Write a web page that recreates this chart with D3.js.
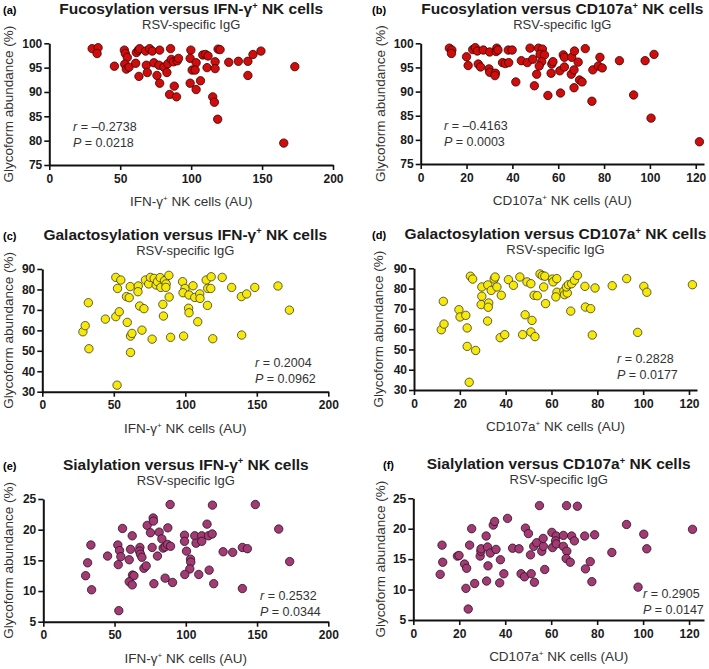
<!DOCTYPE html>
<html><head><meta charset="utf-8">
<script src="https://cdn.jsdelivr.net/npm/d3@7"></script>
<style>
body{margin:0;background:#fff;}
svg{display:block;font-family:"Liberation Sans",Arial,Helvetica,sans-serif;}
</style></head><body>
<svg id="c" width="709" height="669"></svg>
<script>
// ---- data (x = NK cells AU, y = glycoform abundance %) ----
const fucIFN = [[30.2,98.9],[34.4,99.1],[33.7,97.9],[45.9,95.3],[52.9,98.6],[53.6,97.9],[55.0,97.1],[53.2,95.7],[54.3,94.7],[56.2,95.1],[60.9,95.9],[61.4,98.1],[62.8,98.6],[63.7,98.9],[67.9,98.4],[70.7,98.9],[72.6,98.4],[77.8,98.6],[85.5,98.9],[63.2,93.2],[68.4,95.5],[69.1,94.0],[73.7,96.0],[77.3,95.5],[75.9,93.4],[77.8,91.8],[80.8,95.1],[82.9,94.0],[83.6,95.8],[86.0,96.7],[87.6,96.2],[90.2,96.4],[91.1,96.9],[88.1,91.2],[84.8,89.5],[89.7,89.0],[99.8,98.6],[99.3,96.9],[103.5,96.0],[100.7,94.5],[102.8,94.5],[99.3,91.8],[106.6,92.3],[103.5,90.5],[108.2,97.6],[110.1,97.7],[111.9,97.4],[111.2,95.0],[116.9,96.2],[116.9,94.8],[115.2,89.0],[116.4,87.9],[118.7,84.4],[119.0,98.8],[120.4,98.7],[126.5,96.1],[133.3,96.3],[140.0,96.3],[140.0,93.4],[143.6,97.7],[149.2,98.4],[173.1,95.2],[165.3,79.5]];
const fucCD107a = [[12.5,99.0],[13.6,98.6],[13.4,97.9],[20.0,97.2],[20.7,95.4],[22.7,98.7],[23.8,99.1],[24.7,98.4],[25.1,95.7],[26.1,95.1],[27.3,98.6],[30.1,98.2],[29.8,94.7],[30.1,94.0],[32.6,93.8],[32.4,93.3],[33.2,99.0],[32.9,98.3],[33.7,98.6],[35.7,96.0],[36.9,95.8],[38.4,96.0],[38.2,98.6],[39.9,98.6],[41.5,92.0],[43.9,96.4],[46.5,96.0],[47.7,99.0],[48.9,96.7],[50.6,93.6],[49.6,91.2],[51.4,99.0],[53.1,98.8],[52.1,97.7],[54.0,97.6],[52.8,96.2],[51.7,95.3],[55.5,89.2],[56.9,93.8],[57.2,95.7],[57.7,96.2],[60.7,94.3],[61.0,89.7],[62.2,97.6],[62.7,97.1],[62.7,95.1],[65.9,97.1],[65.7,93.6],[67.1,98.4],[66.9,94.5],[66.9,90.8],[68.7,96.1],[69.3,92.4],[70.4,92.0],[71.8,98.9],[74.7,88.0],[75.1,94.5],[77.5,95.3],[78.2,97.1],[79.2,94.9],[86.7,96.4],[92.9,89.3],[97.9,96.4],[101.8,97.7],[100.5,84.5],[121.6,79.6]];
const galIFN = [[28.4,59.3],[30.0,62.3],[32.2,73.5],[32.6,51.0],[44.1,65.5],[51.4,85.9],[54.9,84.6],[52.6,80.5],[51.4,66.7],[53.8,69.1],[52.3,33.2],[58.9,76.5],[60.8,76.0],[61.5,81.4],[59.4,63.9],[61.7,57.2],[62.7,58.5],[61.7,49.2],[67.1,81.7],[66.9,78.9],[68.1,71.9],[71.1,70.6],[69.7,60.1],[72.1,84.6],[74.4,82.7],[75.6,85.9],[76.8,55.7],[78.2,85.4],[79.6,82.2],[80.5,83.8],[82.4,85.8],[82.9,81.0],[84.3,72.7],[84.7,67.0],[85.5,84.3],[86.6,82.7],[86.4,81.0],[88.5,86.9],[88.7,76.3],[89.7,56.6],[98.1,83.8],[99.8,80.5],[98.4,78.4],[98.8,57.2],[102.6,77.3],[102.3,70.8],[102.6,68.6],[105.4,81.8],[106.6,76.1],[110.1,77.8],[110.3,75.6],[108.7,64.2],[114.6,84.6],[115.7,80.5],[117.8,80.5],[115.5,72.2],[118.1,86.2],[119.2,55.9],[125.8,85.9],[132.4,81.0],[139.2,76.5],[142.9,77.8],[139.4,57.7],[148.6,81.0],[164.8,81.7],[172.8,69.9]];
const galCD107a = [[11.9,59.7],[13.1,62.5],[12.8,73.7],[19.6,69.6],[20.1,66.0],[22.6,66.8],[23.2,60.6],[23.2,51.5],[24.1,33.8],[24.6,86.1],[25.6,84.7],[26.9,49.5],[29.6,80.8],[29.6,76.2],[29.3,72.1],[32.2,81.8],[32.6,72.9],[32.4,70.8],[32.1,64.0],[33.7,79.1],[35.0,84.7],[35.4,85.7],[36.2,80.8],[38.1,76.7],[37.6,55.8],[39.6,57.3],[41.2,84.4],[43.4,81.6],[46.2,85.7],[48.5,67.1],[47.4,57.3],[49.3,83.3],[51.0,82.4],[51.5,64.3],[51.0,58.6],[52.8,56.3],[52.4,76.7],[53.8,76.5],[55.0,87.2],[56.0,86.4],[57.1,86.1],[56.6,80.8],[57.4,72.6],[60.4,84.7],[60.7,83.3],[62.3,84.9],[62.4,78.2],[61.9,75.9],[65.4,78.7],[65.7,77.0],[66.9,77.8],[66.5,80.8],[67.4,81.9],[68.8,82.4],[68.4,68.9],[70.0,84.1],[71.3,86.5],[74.6,81.1],[74.8,70.9],[77.1,70.1],[77.8,57.1],[79.0,80.3],[86.5,81.4],[92.8,84.9],[97.6,58.4],[100.3,81.1],[101.6,78.2],[121.5,81.9]];
const siaIFN = [[29.7,12.5],[31.1,14.6],[33.4,17.5],[33.9,10.2],[45.1,15.7],[52.3,17.5],[52.6,14.3],[53.5,16.6],[54.4,15.6],[53.0,6.8],[55.6,20.2],[60.3,15.1],[61.2,16.8],[62.4,19.0],[62.6,12.6],[63.6,12.5],[60.3,11.5],[62.4,11.0],[67.8,17.1],[67.5,16.5],[68.2,16.0],[69.2,15.5],[70.6,13.7],[72.2,14.1],[72.9,20.7],[75.2,19.5],[76.4,17.1],[77.1,21.9],[77.3,21.4],[77.6,11.2],[80.1,15.7],[81.3,19.6],[83.2,18.5],[84.1,17.0],[85.5,17.2],[87.1,17.6],[89.3,17.3],[87.4,20.3],[85.5,12.1],[89.0,24.1],[90.7,11.4],[99.1,19.1],[99.1,18.1],[100.5,16.5],[103.3,15.2],[103.5,14.7],[102.8,13.6],[99.3,12.7],[106.3,19.0],[107.2,17.8],[111.2,19.0],[111.2,18.1],[115.9,19.0],[118.5,19.3],[114.9,20.9],[109.1,12.7],[116.4,13.4],[119.6,11.2],[118.7,24.0],[126.2,16.4],[132.9,16.3],[139.7,17.1],[143.2,16.9],[139.7,10.4],[148.8,24.1],[165.2,20.1],[172.9,14.8]];
const siaCD107a = [[11.7,12.5],[12.8,14.5],[12.5,17.3],[19.2,15.5],[19.9,15.6],[22.3,14.2],[23.2,13.5],[22.9,10.2],[23.9,6.8],[24.5,17.3],[25.4,20.0],[26.7,11.0],[29.1,15.5],[29.4,16.3],[29.5,16.7],[31.7,18.8],[32.3,17.0],[32.5,13.9],[31.9,11.4],[33.5,16.0],[34.8,20.6],[35.4,21.2],[36.0,16.6],[37.9,14.9],[37.6,11.1],[39.4,12.6],[41.0,21.7],[43.2,16.8],[46.0,16.7],[48.8,20.1],[50.1,19.2],[51.0,15.7],[46.9,12.6],[48.4,12.1],[51.3,12.6],[52.7,11.2],[52.4,17.1],[53.7,17.7],[54.9,23.8],[55.9,16.3],[56.6,17.1],[56.5,18.4],[57.2,13.3],[60.3,19.4],[60.6,16.9],[62.2,18.8],[61.9,18.0],[62.2,17.5],[65.3,18.9],[65.3,17.1],[66.7,23.8],[66.8,16.3],[66.5,15.1],[68.3,14.5],[68.9,18.8],[70.1,18.0],[71.4,23.7],[74.6,18.8],[74.9,13.4],[77.0,14.6],[77.7,11.3],[78.9,19.0],[86.4,16.1],[92.8,20.7],[97.8,10.4],[100.3,19.1],[101.6,16.7],[121.5,19.9]];

const ticksIFN = [0,50,100,150,200];
const ticksCD107a = [0,20,40,60,80,100,120];
const ticksFuc = [75,80,85,90,95,100];
const ticksGal = [30,40,50,60,70,80,90];
const ticksSia = [5,10,15,20,25];

const statsR = ["\u20130.2738","\u20130.4163","0.2004","0.2828","0.2532","0.2905"];
const statsP = ["0.0218","0.0003","0.0962","0.0177","0.0344","0.0147"];

// ---- layout ----
const panels = [
 {lab:"(a)",labX:3,t1:"Fucosylation versus IFN-\u03b3",data:fucIFN,xt:ticksIFN,yt:ticksFuc,xd:[0,200],yd:[75,100],
  xr:[49.3,333],yr:[165,43.3],fill:"#d00d0d",stroke:"#3a0000",xl:"IFN-\u03b3",sx:73,sy:131,ylX:8},
 {lab:"(b)",labX:372,t1:"Fucosylation versus CD107a",data:fucCD107a,xt:ticksCD107a,yt:ticksFuc,xd:[0,123.6],yd:[75,100],
  xr:[420.7,704],yr:[164,43.3],fill:"#d00d0d",stroke:"#3a0000",xl:"CD107a",sx:444,sy:130,ylX:380},
 {lab:"(c)",labX:3,t1:"Galactosylation versus IFN-\u03b3",data:galIFN,xt:ticksIFN,yt:ticksGal,xd:[0,200],yd:[30,90],
  xr:[42.3,328.3],yr:[391.7,269],fill:"#f5e80a",stroke:"#3a3a20",xl:"IFN-\u03b3",sx:255,sy:367,ylX:8},
 {lab:"(d)",labX:372,t1:"Galactosylation versus CD107a",data:galCD107a,xt:ticksCD107a,yt:ticksGal,xd:[0,123.5],yd:[30,90],
  xr:[414,697],yr:[390,268.3],fill:"#f5e80a",stroke:"#3a3a20",xl:"CD107a",sx:617,sy:363,ylX:378},
 {lab:"(e)",labX:3,t1:"Sialylation versus IFN-\u03b3",data:siaIFN,xt:ticksIFN,yt:ticksSia,xd:[0,200],yd:[5,25],
  xr:[43.3,328.3],yr:[621.7,499],fill:"#a23a74",stroke:"#2a1020",xl:"IFN-\u03b3",sx:260,sy:600,ylX:8},
 {lab:"(f)",labX:383,t1:"Sialylation versus CD107a",data:siaCD107a,xt:ticksCD107a,yt:ticksSia,xd:[0,126.5],yd:[5,25],
  xr:[413.3,704],yr:[620,498.3],fill:"#a23a74",stroke:"#2a1020",xl:"CD107a",sx:643,sy:598,ylX:380}
];

const svg = d3.select("#c");

function supText(sel, before, after){
  sel.append("tspan").text(before);
  sel.append("tspan").attr("font-size","0.6em").attr("dy","-0.6em").text("+");
  sel.append("tspan").attr("dy","0.36em").text(after);
}

panels.forEach((p,i)=>{
  const g = svg.append("g");
  const x = d3.scaleLinear().domain(p.xd).range(p.xr);
  const y = d3.scaleLinear().domain(p.yd).range(p.yr);
  const cx = (p.xr[0]+p.xr[1])/2;
  const top = p.yr[1], bot = p.yr[0];
  const titleY = top - 29;
  // panel label
  g.append("text").attr("x",p.labX).attr("y",titleY).attr("font-size",11).attr("font-weight","bold").text(p.lab);
  // title
  const t = g.append("text").attr("x",cx).attr("y",titleY).attr("text-anchor","middle")
    .attr("font-size",15.5).attr("font-weight","bold").attr("fill","#1a1a1a");
  supText(t, p.t1, " NK cells");
  g.append("text").attr("x",cx).attr("y",top-14).attr("text-anchor","middle")
    .attr("font-size",13).attr("fill","#333").text("RSV-specific IgG");
  // axes
  const xa = g.append("g").attr("transform",`translate(0,${bot})`)
    .call(d3.axisBottom(x).tickValues(p.xt).tickSize(5).tickSizeOuter(0).tickPadding(4));
  const ya = g.append("g").attr("transform",`translate(${p.xr[0]},0)`)
    .call(d3.axisLeft(y).tickValues(p.yt).tickSize(5).tickSizeOuter(0).tickPadding(2));
  [xa,ya].forEach(a=>{
    a.select(".domain").attr("stroke","#111").attr("stroke-width",2);
    a.selectAll(".tick line").attr("stroke","#111").attr("stroke-width",1.6);
    a.selectAll(".tick text").attr("font-size",12).attr("font-weight","bold").attr("fill","#1a1a1a")
      .attr("font-family",'"Liberation Sans",Arial,sans-serif');
  });
  // axis titles
  const xt = g.append("text").attr("x",(p.xr[0]+p.xr[1])/2).attr("y",bot+41).attr("text-anchor","middle")
    .attr("font-size",13.5).attr("fill","#333");
  supText(xt, p.xl, " NK cells (AU)");
  g.append("text").attr("transform",`translate(${p.ylX},${(top+bot)/2}) rotate(-90)`)
    .attr("text-anchor","middle").attr("dy","0.35em").attr("font-size",13.5).attr("fill","#333")
    .text("Glycoform abundance (%)");
  // points
  g.append("g").selectAll("circle").data(p.data).join("circle")
    .attr("cx",d=>x(d[0])).attr("cy",d=>y(d[1])).attr("r",4.2)
    .attr("fill",p.fill).attr("stroke",p.stroke).attr("stroke-width",0.8);
  // stats
  const r = g.append("text").attr("x",p.sx).attr("y",p.sy).attr("font-size",12.5).attr("fill","#333");
  r.append("tspan").attr("font-style","italic").text("r");
  r.append("tspan").text(" = "+statsR[i]);
  const pp = g.append("text").attr("x",p.sx).attr("y",p.sy+15.5).attr("font-size",12.5).attr("fill","#333");
  pp.append("tspan").attr("font-style","italic").text("P");
  pp.append("tspan").text(" = "+statsP[i]);
});
</script>
</body></html>
